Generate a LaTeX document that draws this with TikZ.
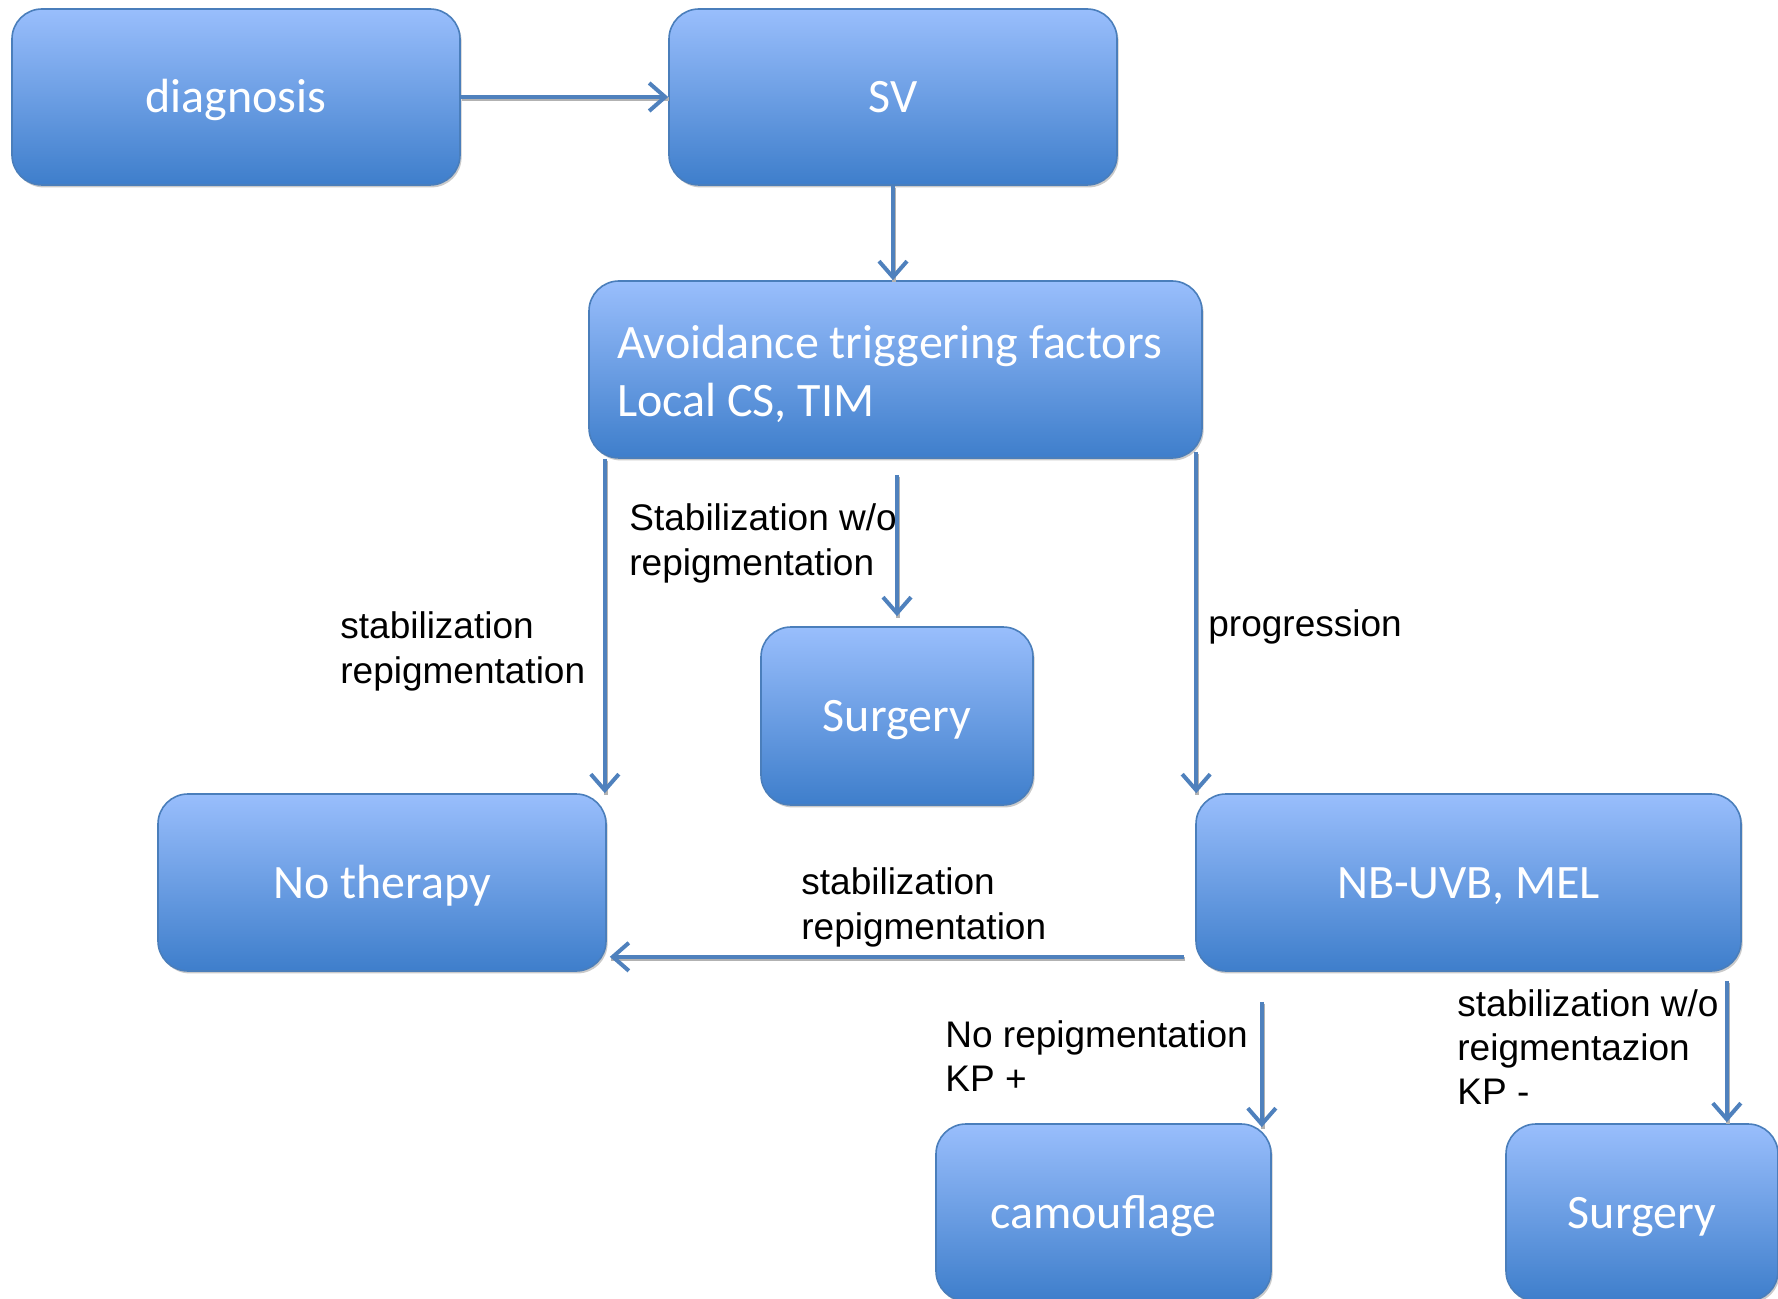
\documentclass[tikz,border=0pt]{standalone}
\usepackage{fontspec}
\setmainfont{Liberation Sans}
\newfontfamily\boxfont{Carlito}
\usetikzlibrary{arrows.meta,shadows,calc}
\definecolor{boxtop}{HTML}{99BEFC}
\definecolor{boxbot}{HTML}{3E7ECB}
\definecolor{boxline}{HTML}{4A7EBB}
\definecolor{arrcol}{HTML}{4F81BD}
\tikzset{
  flowbox/.style={draw=boxline, line width=0.8pt, rounded corners=15pt,
    top color=boxtop, bottom color=boxbot, text=white,
    font=\boxfont\fontsize{24}{29}\selectfont, align=center,
    text height=15.5pt, text depth=0pt,
    drop shadow={shadow xshift=0.8pt, shadow yshift=-1.2pt, fill=black!35, opacity=0.6}},
  arr/.style={draw=arrcol, line width=2pt,
    -{Straight Barb[length=8pt,width=14pt,line width=2pt]},
    preaction={draw=black!30, line width=2pt, -, transform canvas={shift={(0.6pt,-0.9pt)}}}},
  lbl/.style={anchor=west, inner sep=0pt, align=left, font=\fontsize{18.5}{22.2}\selectfont}
}
\begin{document}
\begin{tikzpicture}[x=0.5pt,y=-0.5pt]
\useasboundingbox (0,0) rectangle (1778,1299);
\clip (0,0) rectangle (1778,1299);
% boxes
\node[flowbox, minimum width=224pt, minimum height=88pt] (diag) at (236,97) {diagnosis};
\node[flowbox, minimum width=224pt, minimum height=88pt] (sv) at (893,97) {SV};
\node[flowbox, minimum width=306.5pt, minimum height=88.5pt, text height={}, text depth={}, text width=278.5pt, inner xsep=14pt, align=flush left] (avoid) at (895.5,369.5) {\rule{0pt}{21pt}Avoidance triggering factors\\Local CS, TIM};
\node[flowbox, minimum width=136pt, minimum height=89pt] (surg1) at (897,716) {Surgery};
\node[flowbox, minimum width=224pt, minimum height=88.5pt] (noth) at (382,882.5) {No therapy};
\node[flowbox, minimum width=272.5pt, minimum height=88.5pt] (nb) at (1468.5,882.5) {NB-UVB, MEL};
\node[flowbox, minimum width=167.5pt, minimum height=88.5pt] (camo) at (1103.5,1212.5) {camouflage};
\node[flowbox, minimum width=136pt, minimum height=88.5pt] (surg2) at (1642,1212.5) {Surgery};
% connectors
\draw[arr] (diag.east) -- (sv.west);
\draw[arr] (sv.south) -- (sv.south |- avoid.north);
\draw[arr] ([xshift=-1pt]avoid.south west -| noth.north east) -- ([xshift=-1pt]noth.north east);
\draw[arr] ([yshift=-8pt]avoid.south -| surg1.north) -- ([yshift=5pt]surg1.north);
\draw[arr] ([shift={(0.5pt,3.5pt)}]avoid.south west -| nb.north west) -- ([xshift=0.5pt]nb.north west);
\draw[arr] ([shift={(-5.5pt,7.5pt)}]nb.south west) -- ([shift={(1.5pt,7.5pt)}]noth.south east);
\draw[arr] ([shift={(-5pt,-15pt)}]nb.south -| camo.north east) -- ([shift={(-5pt,-2pt)}]camo.north east);
\draw[arr] ([shift={(-7.5pt,-4.5pt)}]nb.south east) -- ([shift={(-7.5pt,0.5pt)}]nb.south east |- surg2.north);
% labels
\node[lbl] (l1) at (340,651.5) {stabilization\\repigmentation};
\node[lbl] (l2) at (629,543.5) {Stabilization w/o\\repigmentation};
\node[lbl] (l3) at (1208,626.5) {progression};
\node[lbl] (l4) at (801,907.5) {stabilization\\repigmentation};
\node[lbl] (l5) at (945,1056) {No repigmentation\\KP +};
\node[lbl] (l6) at (1457,1047) {stabilization w/o\\reigmentazion\\KP -};
\end{tikzpicture}
\end{document}
